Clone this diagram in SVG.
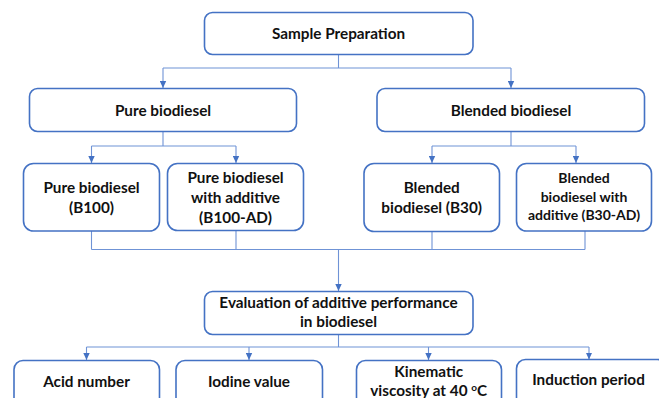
<svg xmlns="http://www.w3.org/2000/svg" width="659" height="398" viewBox="0 0 659 398">
<style>
.box{fill:#fff;stroke:#4472C4;stroke-width:1.6}
.t{font-family:Lato,"Open Sans",sans-serif;font-weight:bold;font-size:15.3px;fill:#111;text-anchor:middle}
.ts{font-size:14px}
.c{fill:none;stroke:#6F93D6;stroke-width:1.1}
</style>
<defs>
<marker id="ah" markerUnits="userSpaceOnUse" markerWidth="7" markerHeight="7" refX="7" refY="3.5" orient="auto" viewBox="0 0 7 7">
<path d="M0,0.3 L7,3.5 L0,6.7 Z" fill="#4472C4"/>
</marker>
</defs>
<rect width="659" height="398" fill="#fff"/>
<g id="connectors">
<path class="c" d="M338.5,54.5 V68 M163,68 H511"/>
<path class="c" d="M163,68 V88" marker-end="url(#ah)"/>
<path class="c" d="M511,68 V88" marker-end="url(#ah)"/>
<path class="c" d="M163,132 V146 M91.5,146 H236"/>
<path class="c" d="M91.5,146 V163" marker-end="url(#ah)"/>
<path class="c" d="M236,146 V163" marker-end="url(#ah)"/>
<path class="c" d="M511,132 V146 M432,146 H576"/>
<path class="c" d="M432,146 V163" marker-end="url(#ah)"/>
<path class="c" d="M576,146 V163" marker-end="url(#ah)"/>
<path class="c" d="M91.5,231 V249.5 M236,231 V249.5 M432,231.5 V249.5 M585,231 V249.5 M91.5,249.5 H585"/>
<path class="c" d="M338.5,249.5 V291" marker-end="url(#ah)"/>
<path class="c" d="M338.5,334.5 V347 M86.5,347 H589"/>
<path class="c" d="M86.5,347 V360" marker-end="url(#ah)"/>
<path class="c" d="M249,347 V360" marker-end="url(#ah)"/>
<path class="c" d="M428.5,347 V360" marker-end="url(#ah)"/>
<path class="c" d="M589,347 V359.5" marker-end="url(#ah)"/>
</g>
<g id="sample">
<rect class="box" x="204.5" y="12.5" width="268.5" height="42" rx="8"/>
<text class="t" x="338.5" y="39">Sample Preparation</text>
</g>
<g id="pure">
<rect class="box" x="29.5" y="88.5" width="267" height="43" rx="8"/>
<text class="t" x="163" y="115.5">Pure biodiesel</text>
</g>
<g id="blended">
<rect class="box" x="377" y="88.5" width="267.5" height="43" rx="8"/>
<text class="t" x="511" y="115.5">Blended biodiesel</text>
</g>
<g id="b100">
<rect class="box" x="23.5" y="163.5" width="136" height="67.5" rx="10"/>
<text class="t" x="91.5" y="193.3">Pure biodiesel</text>
<text class="t" x="91.5" y="213.3">(B100)</text>
</g>
<g id="b100ad">
<rect class="box" x="167.5" y="163.5" width="136" height="67" rx="10"/>
<text class="t" x="235.5" y="183">Pure biodiesel</text>
<text class="t" x="235.5" y="203">with additive</text>
<text class="t" x="235.5" y="223">(B100-AD)</text>
</g>
<g id="b30">
<rect class="box" x="364" y="163.5" width="135.5" height="68" rx="10"/>
<text class="t" x="431.7" y="193.3">Blended</text>
<text class="t" x="431.7" y="213.3">biodiesel (B30)</text>
</g>
<g id="b30ad">
<rect class="box" x="516.5" y="163.5" width="135" height="67.5" rx="10"/>
<text class="t ts" x="584" y="183.3">Blended</text>
<text class="t ts" x="584" y="201.7">biodiesel with</text>
<text class="t ts" x="584" y="220">additive (B30-AD)</text>
</g>
<g id="evaluation">
<rect class="box" x="204.5" y="291.5" width="268.5" height="43" rx="8"/>
<text class="t" x="338.5" y="308.3">Evaluation of additive performance</text>
<text class="t" x="338.5" y="327.3">in biodiesel</text>
</g>
<g id="acid">
<rect class="box" x="14" y="360.5" width="145.5" height="60" rx="9"/>
<text class="t" x="86.5" y="387">Acid number</text>
</g>
<g id="iodine">
<rect class="box" x="176" y="360.5" width="146.5" height="60" rx="9"/>
<text class="t" x="249" y="387">Iodine value</text>
</g>
<g id="kinematic">
<rect class="box" x="356.5" y="360.5" width="145" height="60" rx="9"/>
<text class="t" x="428.7" y="377">Kinematic</text>
<text class="t" x="428.7" y="396">viscosity at 40 <tspan font-size="10" dy="-5">o</tspan><tspan dy="5">C</tspan></text>
</g>
<g id="induction">
<rect class="box" x="516.5" y="359.5" width="150" height="60" rx="9"/>
<text class="t" x="588.5" y="385">Induction period</text>
</g>
</svg>
